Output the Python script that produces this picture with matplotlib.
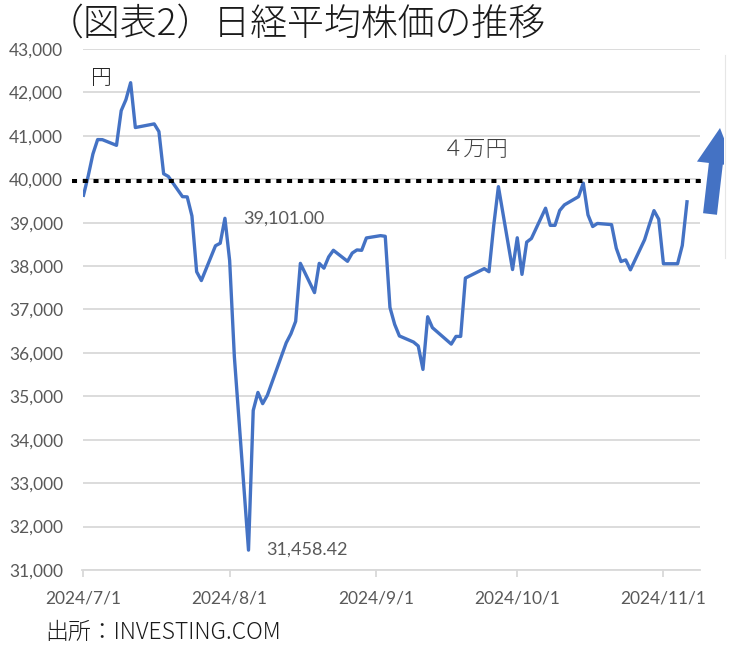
import matplotlib
matplotlib.use("Agg")
import matplotlib.pyplot as plt
import matplotlib.transforms as mtransforms
from matplotlib.patches import FancyArrow, Rectangle
import pandas as pd

# ---------------- data ----------------
dates = ["2024-07-01","2024-07-02","2024-07-03","2024-07-04","2024-07-05","2024-07-08","2024-07-09",
         "2024-07-10","2024-07-11","2024-07-12","2024-07-16","2024-07-17","2024-07-18","2024-07-19",
         "2024-07-22","2024-07-23","2024-07-24","2024-07-25","2024-07-26","2024-07-29","2024-07-30",
         "2024-07-31","2024-08-01","2024-08-02","2024-08-05","2024-08-06","2024-08-07","2024-08-08",
         "2024-08-09","2024-08-13","2024-08-14","2024-08-15","2024-08-16","2024-08-19","2024-08-20",
         "2024-08-21","2024-08-22","2024-08-23","2024-08-26","2024-08-27","2024-08-28","2024-08-29",
         "2024-08-30","2024-09-02","2024-09-03","2024-09-04","2024-09-05","2024-09-06","2024-09-09",
         "2024-09-10","2024-09-11","2024-09-12","2024-09-13","2024-09-17","2024-09-18","2024-09-19",
         "2024-09-20","2024-09-24","2024-09-25","2024-09-26","2024-09-27","2024-09-30","2024-10-01",
         "2024-10-02","2024-10-03","2024-10-04","2024-10-07","2024-10-08","2024-10-09","2024-10-10",
         "2024-10-11","2024-10-14","2024-10-15","2024-10-16","2024-10-17","2024-10-18","2024-10-21",
         "2024-10-22","2024-10-23","2024-10-24","2024-10-25","2024-10-28","2024-10-29","2024-10-30",
         "2024-10-31","2024-11-01","2024-11-04","2024-11-05","2024-11-06"]
nikkei = [39631, 40075, 40581, 40914, 40912, 40781, 41580,
          41832, 42224, 41191, 41275, 41098, 40126, 40064,
          39599, 39594, 39155, 37870, 37667, 38469, 38526,
          39101, 38126, 35910, 31458, 34675, 35090, 34831,
          35025, 36233, 36442, 36727, 38063, 37389, 38063,
          37952, 38211, 38364, 38110, 38300, 38372, 38363,
          38648, 38701, 38686, 37048, 36657, 36391, 36250,
          36159, 35620, 36833, 36582, 36203, 36380, 36380,
          37724, 37941, 37870, 38926, 39830, 37920, 38652,
          37809, 38552, 38636, 39333, 38938, 38938, 39280,
          39410, 39600, 39911, 39180, 38911, 38982, 38955,
          38412, 38105, 38143, 37914, 38606, 38950, 39277,
          39081, 38054, 38054, 38475, 39481]

y_ticks = list(range(31000, 44000, 1000))
x_ticks = ["2024-07-01", "2024-08-01", "2024-09-01", "2024-10-01", "2024-11-01"]
x_tick_labels = ["2024/7/1", "2024/8/1", "2024/9/1", "2024/10/1", "2024/11/1"]
threshold_value = 39950
high_label = ("2024-07-31", 39101, "39,101.00")
low_label = ("2024-08-05", 31458, "31,458.42")

title = "（図表2）日経平均株価の推移"
unit_label = "円"
threshold_label = "４万円"
source_label = "出所：INVESTING.COM"

# ---------------- figure ----------------
W, H = 733, 649
fig = plt.figure(figsize=(W / 100, H / 100), dpi=100)
fig.patch.set_facecolor("white")

L, R, T, B = 82.5, 700, 49, 570
ax = fig.add_axes([L / W, 1 - B / H, (R - L) / W, (B - T) / H])

x = pd.to_datetime(dates)
blue = "#4472C4"
grid_c = "#D9D9D9"
txt_c = "#595959"
tick_font = ["Lato", "DejaVu Sans"]
cjk = ["Noto Sans CJK JP", "DejaVu Sans"]

ax.plot(x, nikkei, color=blue, lw=2.4, solid_joinstyle="round", zorder=3)

x0 = pd.Timestamp("2024-07-01") - pd.Timedelta(hours=5)
x1 = x0 + pd.Timedelta(days=(R - L) / 4.715)
ax.set_xlim(x0, x1)
ax.set_ylim(31000, 43000)

ax.set_yticks(y_ticks)
ax.set_yticklabels([f"{v:,}" for v in y_ticks], fontsize=12.5, color=txt_c, family=tick_font)
ax.set_xticks(pd.to_datetime(x_ticks))
ax.set_xticklabels(x_tick_labels, fontsize=12.5, color=txt_c, family=tick_font)

ax.grid(axis="y", color=grid_c, lw=1.3, zorder=0)
ax.set_axisbelow(True)
for s in ["top", "right", "left"]:
    ax.spines[s].set_visible(False)
ax.spines["bottom"].set_color(grid_c)
ax.spines["bottom"].set_linewidth(1.3)
ax.tick_params(axis="y", length=0, pad=14)
ax.tick_params(axis="x", length=5, width=1.3, color=grid_c, direction="out", pad=10)

# threshold dotted line
trans = mtransforms.blended_transform_factory(ax.transAxes, ax.transData)
ax.plot([(72 - L) / (R - L), (705 - L) / (R - L)], [threshold_value, threshold_value],
        transform=trans, color="black", lw=2.9, dashes=(1.25, 1.42),
        dash_capstyle="butt", clip_on=False, zorder=4)

# annotations
ax.annotate(high_label[2], xy=(pd.Timestamp(high_label[0]), high_label[1]),
            xytext=(18, 0), textcoords="offset pixels", ha="left", va="center",
            fontsize=13, color=txt_c, family=tick_font)
ax.annotate(low_label[2], xy=(pd.Timestamp(low_label[0]), low_label[1]),
            xytext=(18, 0), textcoords="offset pixels", ha="left", va="center",
            fontsize=13, color=txt_c, family=tick_font)

# overlay axes in pixel coordinates for free text and arrow
ov = fig.add_axes([0, 0, 1, 1], facecolor="none")
ov.set_xlim(0, W)
ov.set_ylim(H, 0)
ov.axis("off")

ov.text(47, 24, title, fontsize=26.6, family=cjk, fontweight="light",
        color="#1a1a1a", ha="left", va="center")
ov.text(101.5, 78, unit_label, fontsize=15, family=cjk, fontweight="light",
        color="#262626", ha="center", va="center")
ov.text(475, 150, threshold_label, fontsize=16, family=cjk, fontweight="light",
        color="#404040", ha="center", va="center")
ov.text(45, 632, source_label, fontsize=16.5, family=cjk, fontweight="light",
        color="#1a1a1a", ha="left", va="center")

arrow = FancyArrow(710, 214, 10, -86, width=14, head_width=38, head_length=36,
                   length_includes_head=True, color=blue, lw=0)
ov.add_patch(arrow)
clip = Rectangle((0, 0), 724, H, transform=ov.transData)
arrow.set_clip_path(clip)
ov.plot([724.5, 724.5], [55, 258], color="#E6E6E6", lw=0.8)

fig.savefig("out.png", dpi=100, facecolor="white")
